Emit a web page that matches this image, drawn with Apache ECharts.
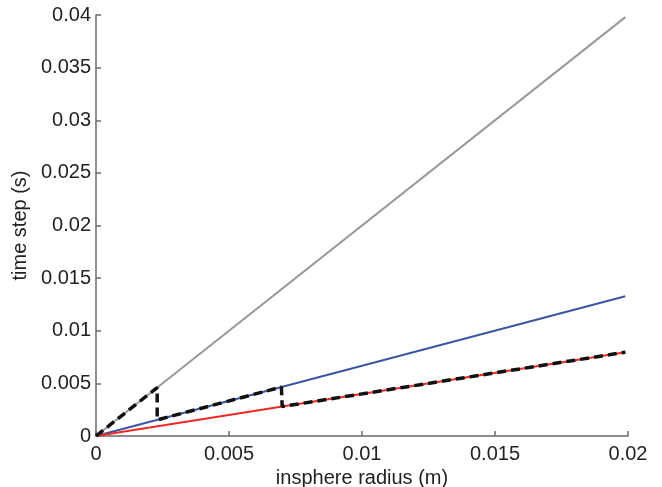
<!DOCTYPE html>
<html>
<head>
<meta charset="utf-8">
<script src="https://cdn.jsdelivr.net/npm/echarts@6/dist/echarts.min.js"></script>
<style>html,body{margin:0;padding:0;background:#fff;}#c{width:662px;height:487px;}</style>
</head>
<body>
<div id="c"></div>
<script>
const xTicks = [0, 0.005, 0.01, 0.015, 0.02];
const yTicks = [0, 0.005, 0.01, 0.015, 0.02, 0.025, 0.03, 0.035, 0.04];
const grayLine = [[0, 0], [0.0199, 0.0398]];
const blueLine = [[0, 0], [0.0199, 0.01327]];
const redLine = [[0, 0], [0.0199, 0.00796]];
const dashedLine = [[0, 0], [0.0023, 0.0046], [0.0023, 0.00153], [0.00697, 0.00465], [0.0070, 0.0028], [0.0199, 0.00796]];

const chart = echarts.init(document.getElementById('c'));
const font = 'Liberation Sans, Arial, Helvetica, sans-serif';
const axisCommon = {
  axisLine: {show: true, lineStyle: {color: '#6a6a6a', width: 1.5}},
  axisTick: {show: true, inside: true, length: 5, lineStyle: {color: '#6a6a6a', width: 1.5}},
  splitLine: {show: false},
  axisLabel: {color: '#222', fontSize: 20, fontFamily: font},
  nameTextStyle: {color: '#222', fontSize: 20, fontFamily: font}
};
chart.setOption({
  animation: false,
  backgroundColor: '#fff',
  grid: {left: 96, right: 34, top: 15, bottom: 51, containLabel: false, outerBoundsMode: 'none'},
  xAxis: Object.assign({}, axisCommon, {
    type: 'value', min: 0, max: 0.02, interval: 0.005,
    name: 'insphere radius (m)', nameLocation: 'middle', nameGap: 22,
    axisLabel: Object.assign({}, axisCommon.axisLabel, {margin: 8, formatter: v => String(+v.toFixed(4))})
  }),
  yAxis: Object.assign({}, axisCommon, {
    type: 'value', min: 0, max: 0.04, interval: 0.005,
    name: 'time step (s)', nameLocation: 'middle', nameGap: 59,
    axisLabel: Object.assign({}, axisCommon.axisLabel, {margin: 5, formatter: v => String(+v.toFixed(4))})
  }),
  series: [
    {type: 'line', data: grayLine, symbol: 'none', lineStyle: {color: '#999999', width: 2}},
    {type: 'line', data: blueLine, symbol: 'none', lineStyle: {color: '#3a55a5', width: 2}},
    {type: 'line', data: redLine, symbol: 'none', lineStyle: {color: '#ee2a24', width: 2}},
    {type: 'line', data: dashedLine, symbol: 'none', lineStyle: {color: '#111', width: 3.5, type: [9, 5]}}
  ]
});
</script>
</body>
</html>
